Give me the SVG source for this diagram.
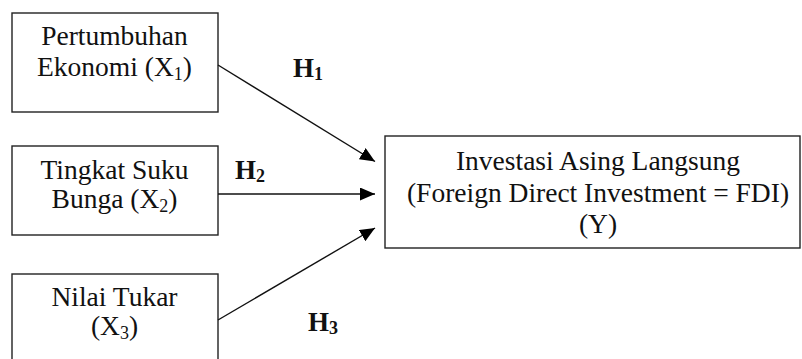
<svg xmlns="http://www.w3.org/2000/svg" width="802" height="359" viewBox="0 0 802 359">
<style>
.box{fill:#fff;stroke:#222;stroke-width:1.4}
.t{font-family:"Liberation Serif","Times New Roman",serif;font-size:27.5px;fill:#111;text-anchor:middle}
.h{font-family:"Liberation Serif","Times New Roman",serif;font-size:27px;font-weight:bold;fill:#111}
.sub{font-size:18px}
.c{fill:none;stroke:#111;stroke-width:1.4}
</style>
<defs>
<marker id="ah" markerUnits="userSpaceOnUse" markerWidth="16" markerHeight="14" refX="15" refY="6.5" orient="auto">
<path d="M0,0 L15,6.5 L0,13 Z" fill="#000"/>
</marker>
</defs>
<rect width="802" height="359" fill="#fff"/>
<g id="n1">
<rect class="box" x="12" y="13" width="206" height="99"/>
<text class="t" x="114.5" y="45">Pertumbuhan</text>
<text class="t" x="114.5" y="75.5">Ekonomi (X<tspan class="sub" dy="4">1</tspan><tspan dy="-4">)</tspan></text>
</g>
<g id="n2">
<rect class="box" x="12" y="146" width="206" height="89"/>
<text class="t" x="114.5" y="179">Tingkat Suku</text>
<text class="t" x="114.5" y="208">Bunga (X<tspan class="sub" dy="4">2</tspan><tspan dy="-4">)</tspan></text>
</g>
<g id="n3">
<rect class="box" x="12" y="274" width="206" height="100"/>
<text class="t" x="114.5" y="306">Nilai Tukar</text>
<text class="t" x="114.5" y="335">(X<tspan class="sub" dy="4">3</tspan><tspan dy="-4">)</tspan></text>
</g>
<g id="y">
<rect class="box" x="385" y="136" width="415" height="112"/>
<text class="t" x="598" y="170">Investasi Asing Langsung</text>
<text class="t" x="598" y="201.5">(Foreign Direct Investment = FDI)</text>
<text class="t" x="598" y="232.5">(Y)</text>
</g>
<g id="connectors">
<path class="c" d="M218,65 L375,161.5" marker-end="url(#ah)"/>
<path class="c" d="M218,194 L375,194" marker-end="url(#ah)"/>
<path class="c" d="M218,320 L375,228" marker-end="url(#ah)"/>
</g>
<g id="labels">
<text class="h" x="293" y="77">H<tspan class="sub" dy="3">1</tspan></text>
<text class="h" x="235" y="179">H<tspan class="sub" dy="3">2</tspan></text>
<text class="h" x="308" y="331">H<tspan class="sub" dy="3">3</tspan></text>
</g>
</svg>
